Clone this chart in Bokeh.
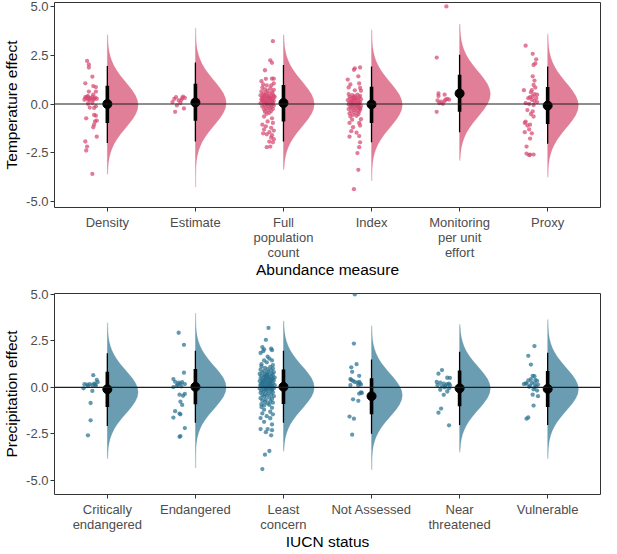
import numpy as np
from bokeh.plotting import figure
from bokeh.models import Range1d, FixedTicker, Span, NumeralTickFormatter
from bokeh.layouts import column
from bokeh.embed import file_html
from bokeh.resources import INLINE

# ---------------- data: top panel (Abundance measure) ----------------
abund_labels = ["Density", "Estimate", "Full\npopulation\ncount", "Index",
                "Monitoring\nper unit\neffort", "Proxy"]
temp_median = [0.00, 0.08, 0.05, -0.02, 0.54, -0.08]
temp_lo66 = [-0.97, -0.86, -0.89, -0.97, -0.40, -1.02]
temp_hi66 = [0.93, 1.04, 0.98, 0.89, 1.50, 0.87]
temp_lo95 = [-2.00, -1.92, -1.92, -1.96, -1.44, -2.04]
temp_hi95 = [1.95, 2.13, 2.00, 1.92, 2.52, 1.92]
temp_slab_mode = [-0.05, 0.05, 0.00, -0.04, 0.51, -0.07]
temp_slab_lo = [-3.60, -4.26, -3.37, -3.94, -2.90, -3.76]
temp_slab_hi = [3.56, 3.90, 3.56, 3.81, 4.10, 3.60]

# (jitter offset in category units, effect)
density_pts = [(-0.23, 2.21), (-0.21, 2.03), (-0.21, 1.87), (-0.17, 1.40), (-0.25, 1.06),
               (-0.16, 0.92), (-0.13, 0.87), (-0.21, 0.64), (-0.13, 0.64), (-0.16, 0.48),
               (-0.25, 0.35), (-0.23, 0.38), (-0.22, 0.40), (-0.20, 0.30), (-0.19, 0.28),
               (-0.14, 0.33), (-0.26, 0.22), (-0.22, 0.22), (-0.20, 0.18), (-0.16, 0.20),
               (-0.12, 0.27), (-0.24, 0.30), (-0.17, 0.36), (-0.15, 0.26), (-0.22, 0.01),
               (-0.17, 0.05), (-0.13, -0.11), (-0.20, -0.18), (-0.15, -0.20), (-0.15, -0.56),
               (-0.13, -0.60), (-0.24, -0.73), (-0.14, -0.89), (-0.12, -0.85), (-0.15, -1.06),
               (-0.16, -1.19), (-0.12, -1.67), (-0.25, -1.92), (-0.23, -2.18), (-0.24, -2.38),
               (-0.17, -3.58)]
estimate_pts = [(-0.24, 0.26), (-0.22, 0.35), (-0.19, 0.18), (-0.21, -0.07), (-0.23, -0.40),
                (-0.14, 0.38), (-0.12, 0.31), (-0.17, 0.05), (-0.13, -0.23), (-0.16, 0.20),
                (-0.26, 0.10), (-0.15, 0.30)]
full_pts = [(-0.12, 3.22), (-0.15, 2.24), (-0.13, 2.11), (-0.21, 1.73), (-0.13, 1.30),
            (-0.11, 1.30), (-0.20, 1.29), (-0.25, 1.17), (-0.23, 1.00), (-0.19, 0.95),
            (-0.14, 0.95), (-0.11, 1.05),
            (-0.24, 0.84), (-0.15, 0.80), (-0.21, 0.75), (-0.11, 0.72), (-0.18, 0.68),
            (-0.25, 0.65), (-0.13, 0.62), (-0.20, 0.58), (-0.16, 0.55), (-0.23, 0.52),
            (-0.12, 0.50), (-0.19, 0.47), (-0.26, 0.45), (-0.14, 0.42), (-0.21, 0.40),
            (-0.17, 0.38), (-0.10, 0.36), (-0.24, 0.34), (-0.15, 0.32), (-0.20, 0.30),
            (-0.12, 0.28), (-0.18, 0.26), (-0.25, 0.24), (-0.14, 0.22), (-0.22, 0.20),
            (-0.16, 0.18), (-0.11, 0.16), (-0.19, 0.14), (-0.23, 0.12), (-0.13, 0.10),
            (-0.21, 0.08), (-0.17, 0.06), (-0.26, 0.04), (-0.12, 0.02), (-0.19, 0.00),
            (-0.15, -0.02), (-0.22, -0.05), (-0.11, -0.08), (-0.18, -0.10), (-0.24, -0.13),
            (-0.14, -0.16), (-0.20, -0.19), (-0.16, -0.22), (-0.12, -0.25), (-0.22, -0.28),
            (-0.18, -0.32), (-0.14, -0.36), (-0.21, -0.40), (-0.16, -0.45), (-0.19, -0.50),
            (-0.17, 0.35), (-0.22, 0.44), (-0.13, 0.15), (-0.20, 0.10), (-0.15, 0.27),
            (-0.24, 0.18), (-0.11, 0.40), (-0.18, 0.02), (-0.23, 0.30), (-0.14, -0.05),
            (-0.22, -0.64), (-0.13, -0.73), (-0.18, -0.89), (-0.24, -1.06), (-0.12, -0.97),
            (-0.20, -1.14), (-0.14, -1.22), (-0.22, -1.30), (-0.16, -1.44), (-0.11, -1.36),
            (-0.19, -1.55), (-0.13, -1.60), (-0.23, -1.50), (-0.14, -1.72), (-0.16, -1.93),
            (-0.12, -1.96), (-0.15, -2.18), (-0.19, -2.21), (-0.11, -1.80)]
index_pts = [(-0.20, 1.75), (-0.19, 1.83), (-0.13, 1.87), (-0.27, 1.25), (-0.15, 1.42),
             (-0.24, 1.00), (-0.14, 1.05), (-0.26, 0.85), (-0.13, 0.82), (-0.19, 0.70),
             (-0.12, 0.68),
             (-0.26, 0.51), (-0.16, 0.48), (-0.22, 0.45), (-0.13, 0.42), (-0.19, 0.40),
             (-0.25, 0.37), (-0.14, 0.34), (-0.21, 0.32), (-0.17, 0.30), (-0.24, 0.27),
             (-0.12, 0.25), (-0.20, 0.22), (-0.27, 0.20), (-0.15, 0.18), (-0.22, 0.15),
             (-0.18, 0.13), (-0.13, 0.10), (-0.25, 0.08), (-0.16, 0.06), (-0.21, 0.04),
             (-0.14, 0.02), (-0.19, 0.00), (-0.26, -0.02), (-0.15, -0.04), (-0.23, -0.06),
             (-0.17, -0.08), (-0.12, -0.10), (-0.20, -0.12), (-0.24, -0.15), (-0.14, -0.18),
             (-0.22, -0.20), (-0.18, -0.23), (-0.26, -0.26), (-0.13, -0.28), (-0.20, -0.31),
             (-0.16, -0.34), (-0.23, -0.37), (-0.14, -0.40), (-0.19, -0.44), (-0.25, -0.48),
             (-0.15, -0.52), (-0.21, -0.56), (-0.17, -0.60), (-0.24, -0.64), (-0.18, 0.24),
             (-0.23, 0.12), (-0.16, -0.14), (-0.20, 0.35), (-0.13, -0.22), (-0.22, -0.02),
             (-0.25, -0.97), (-0.14, -0.97), (-0.21, -1.19), (-0.13, -1.10), (-0.23, -1.39),
             (-0.17, -1.47), (-0.25, -1.67), (-0.14, -1.64), (-0.13, -1.96), (-0.14, -2.21),
             (-0.16, -2.51), (-0.15, -3.37), (-0.20, -4.36), (-0.22, -0.80), (-0.12, -0.78)]
monitoring_pts = [(-0.15, 5.00), (-0.26, 2.38), (-0.24, 0.54), (-0.24, 0.41), (-0.17, 0.48),
                  (-0.25, 0.18), (-0.21, 0.12), (-0.19, 0.01), (-0.16, 0.22), (-0.14, 0.26),
                  (-0.12, 0.22), (-0.23, 0.05), (-0.26, -0.40), (-0.17, 0.15)]
proxy_pts = [(-0.25, 2.99), (-0.17, 2.57), (-0.13, 2.29), (-0.14, 2.08), (-0.16, 2.00),
             (-0.17, 1.42), (-0.15, 1.20), (-0.16, 0.98), (-0.14, 0.84), (-0.27, 0.71),
             (-0.18, 0.71), (-0.15, 0.51), (-0.12, 0.48), (-0.17, 0.40), (-0.20, 0.35),
             (-0.22, 0.30), (-0.13, 0.30), (-0.18, 0.22), (-0.15, 0.15), (-0.25, 0.05),
             (-0.21, 0.00), (-0.16, -0.05), (-0.23, -0.31), (-0.17, -0.38), (-0.19, -0.51),
             (-0.16, -0.64), (-0.25, -0.90), (-0.26, -0.97), (-0.20, -1.06), (-0.23, -1.10),
             (-0.21, -1.30), (-0.26, -1.44), (-0.18, -1.50), (-0.20, -1.77), (-0.24, -2.18),
             (-0.24, -2.54), (-0.20, -2.59), (-0.16, -2.59), (-0.21, -2.62), (-0.12, 0.10),
             (-0.19, 0.60)]

# ---------------- data: bottom panel (IUCN status) ----------------
iucn_labels = ["Critically\nendangered", "Endangered", "Least\nconcern", "Not Assessed",
               "Near\nthreatened", "Vulnerable"]
prec_median = [-0.10, 0.03, 0.03, -0.47, -0.05, -0.08]
prec_lo66 = [-1.06, -0.91, -0.89, -1.45, -1.01, -1.06]
prec_hi66 = [0.84, 0.99, 0.96, 0.49, 0.91, 0.88]
prec_lo95 = [-2.07, -1.90, -1.90, -2.49, -2.02, -2.02]
prec_hi95 = [1.83, 1.97, 1.97, 1.50, 1.92, 1.87]
prec_slab_mode = [-0.25, 0.00, 0.00, -0.42, -0.05, -0.10]
prec_slab_lo = [-3.84, -4.34, -3.45, -4.43, -3.49, -3.84]
prec_slab_hi = [3.48, 3.99, 3.58, 3.32, 3.40, 3.65]

critical_pts = [(-0.16, 0.66), (-0.12, 0.40), (-0.26, 0.17), (-0.23, 0.15), (-0.20, 0.18),
                (-0.17, 0.12), (-0.14, 0.16), (-0.13, 0.10), (-0.22, 0.08), (-0.27, -0.05),
                (-0.17, -0.19), (-0.19, -0.84), (-0.19, -1.77), (-0.22, -2.58), (-0.15, 0.20),
                (-0.11, 0.28)]
endangered_pts = [(-0.19, 2.94), (-0.13, 2.29), (-0.13, 0.79), (-0.25, 0.45), (-0.23, 0.30),
                  (-0.19, 0.25), (-0.17, 0.20), (-0.15, 0.28), (-0.21, 0.10), (-0.25, 0.02),
                  (-0.16, 0.05), (-0.12, 0.18), (-0.18, -0.39), (-0.12, -0.35), (-0.14, -0.45),
                  (-0.17, -0.77), (-0.15, -0.94), (-0.23, -1.28), (-0.18, -1.41), (-0.17, -1.45),
                  (-0.25, -1.62), (-0.12, -2.19), (-0.18, -2.66), (-0.17, -2.62), (-0.20, 0.15)]
least_pts = [(-0.17, 3.20), (-0.20, 2.56), (-0.24, 2.17), (-0.22, 2.05), (-0.14, 2.08),
             (-0.13, 2.00), (-0.23, 1.95), (-0.26, 1.85), (-0.18, 1.65), (-0.16, 1.55),
             (-0.13, 1.45), (-0.22, 1.45), (-0.19, 1.35), (-0.25, 1.25), (-0.12, 1.20),
             (-0.25, 1.13), (-0.15, 1.10), (-0.21, 1.05), (-0.12, 1.02), (-0.18, 0.98),
             (-0.26, 0.95), (-0.14, 0.92), (-0.22, 0.88), (-0.17, 0.85), (-0.11, 0.82),
             (-0.24, 0.80), (-0.19, 0.77), (-0.13, 0.74), (-0.27, 0.72), (-0.16, 0.70),
             (-0.21, 0.67), (-0.12, 0.65), (-0.25, 0.62), (-0.18, 0.60), (-0.14, 0.58),
             (-0.22, 0.55), (-0.10, 0.53), (-0.26, 0.50), (-0.17, 0.48), (-0.20, 0.46),
             (-0.13, 0.44), (-0.24, 0.42), (-0.15, 0.40), (-0.21, 0.38), (-0.11, 0.36),
             (-0.27, 0.34), (-0.18, 0.32), (-0.14, 0.30), (-0.23, 0.28), (-0.16, 0.26),
             (-0.20, 0.24), (-0.12, 0.22), (-0.25, 0.20), (-0.19, 0.18), (-0.15, 0.16),
             (-0.22, 0.14), (-0.10, 0.12), (-0.26, 0.10), (-0.17, 0.08), (-0.13, 0.06),
             (-0.21, 0.04), (-0.24, 0.02), (-0.15, 0.00), (-0.19, -0.02), (-0.11, -0.04),
             (-0.27, -0.06), (-0.16, -0.08), (-0.22, -0.10), (-0.13, -0.12), (-0.20, -0.14),
             (-0.25, -0.16), (-0.14, -0.18), (-0.18, -0.20), (-0.23, -0.23), (-0.12, -0.26),
             (-0.26, -0.29), (-0.17, -0.32), (-0.21, -0.35), (-0.14, -0.38), (-0.24, -0.41),
             (-0.19, -0.44), (-0.11, -0.47), (-0.22, -0.50), (-0.16, -0.54), (-0.26, -0.58),
             (-0.13, -0.62), (-0.20, -0.66), (-0.24, -0.70), (-0.15, -0.74), (-0.21, -0.78),
             (-0.12, -0.82), (-0.18, -0.86), (-0.25, -0.90), (-0.16, -0.94), (-0.22, -0.97),
             (-0.19, 0.55), (-0.23, 0.35), (-0.14, 0.12), (-0.20, 0.40), (-0.17, 0.20),
             (-0.24, 0.27), (-0.12, 0.46), (-0.18, 0.05), (-0.21, 0.60), (-0.15, 0.30),
             (-0.26, 0.15), (-0.13, -0.02), (-0.19, 0.70), (-0.16, 0.50), (-0.23, 0.08),
             (-0.20, -0.05),
             (-0.25, -1.06), (-0.13, -1.10), (-0.22, -1.20), (-0.15, -1.31), (-0.24, -1.40),
             (-0.12, -1.45), (-0.19, -1.55), (-0.26, -1.65), (-0.15, -1.66), (-0.22, -1.85),
             (-0.13, -1.99), (-0.26, -2.24), (-0.18, -2.24), (-0.13, -2.30), (-0.20, -2.41),
             (-0.14, -2.58), (-0.16, -3.42), (-0.21, -3.62), (-0.24, -4.39)]
notassessed_pts = [(-0.19, 5.00), (-0.20, 2.36), (-0.23, 1.08), (-0.17, 1.25), (-0.22, 0.84),
                   (-0.14, 0.62), (-0.24, 0.45), (-0.23, 0.40), (-0.21, 0.35), (-0.19, 0.29),
                   (-0.16, 0.25), (-0.14, 0.30), (-0.13, 0.22), (-0.12, 0.15), (-0.15, 0.12),
                   (-0.24, 0.12), (-0.12, -0.27), (-0.14, -0.34), (-0.21, -0.64), (-0.15, -0.72),
                   (-0.25, -1.57), (-0.20, -1.68), (-0.22, -2.54), (-0.11, -0.30)]
near_pts = [(-0.20, 0.93), (-0.24, 0.74), (-0.11, 0.51), (-0.14, 0.52), (-0.26, 0.29),
            (-0.22, 0.25), (-0.18, 0.20), (-0.14, 0.18), (-0.12, 0.20), (-0.25, 0.12),
            (-0.20, 0.05), (-0.16, 0.10), (-0.11, 0.12), (-0.22, -0.13), (-0.14, -0.22),
            (-0.12, -0.05), (-0.18, -0.40), (-0.21, -1.14), (-0.24, -1.36), (-0.12, -2.04),
            (-0.17, 0.00)]
vulnerable_pts = [(-0.15, 2.22), (-0.22, 1.70), (-0.19, 1.23), (-0.17, 0.62), (-0.15, 0.60),
                  (-0.19, 0.45), (-0.22, 0.37), (-0.12, 0.35), (-0.24, 0.20), (-0.27, 0.18),
                  (-0.15, 0.20), (-0.11, 0.15), (-0.21, 0.03), (-0.15, 0.00), (-0.12, -0.17),
                  (-0.17, -0.39), (-0.11, -0.47), (-0.16, -0.98), (-0.22, -1.62), (-0.24, -1.68),
                  (-0.18, 0.25), (-0.20, 0.10), (-0.13, 0.05), (-0.25, 0.22), (-0.16, -0.10),
                  (-0.14, 0.40)]

# shared slab profile: offset from mode -> relative half-width
slab_offsets = [-4.5, -4.25, -4.0, -3.75, -3.5, -3.25, -3.0, -2.75, -2.5, -2.25, -2.0, -1.75,
                -1.5, -1.25, -1.0, -0.75, -0.5, -0.25, 0.0, 0.25, 0.5, 0.75, 1.0, 1.25, 1.5,
                1.75, 2.0, 2.25, 2.5, 2.75, 3.0, 3.25, 3.5, 3.75, 4.0, 4.25, 4.5]
slab_rel = [0.0005, 0.0011, 0.0024, 0.0049, 0.0097, 0.018, 0.033, 0.057, 0.094, 0.147, 0.220,
            0.314, 0.427, 0.554, 0.685, 0.808, 0.910, 0.977, 1.0, 0.977, 0.910, 0.808, 0.685,
            0.554, 0.427, 0.314, 0.220, 0.147, 0.094, 0.057, 0.033, 0.018, 0.0097, 0.0049,
            0.0024, 0.0011, 0.0005]
SLAB_PEAK = 0.35

FONT = "Liberation Sans"


def make_panel(labels, pts_lists, med, lo66, hi66, lo95, hi95, mode, slo, shi,
               slab_col, pt_col, ylab, xlab, yr, height, btop, bbot, title_standoff):
    p = figure(width=601, height=height, x_range=Range1d(0.4, 6.6), y_range=Range1d(*yr),
               output_backend="svg", toolbar_location=None,
               min_border_left=0, min_border_right=1, min_border_top=btop,
               min_border_bottom=bbot)
    p.grid.visible = False
    p.outline_line_color = "#333333"
    p.outline_line_width = 1
    p.background_fill_color = "white"
    p.border_fill_color = "white"

    # slabs
    for i in range(6):
        cx = i + 1
        ys = [slo[i]]
        ws = [0.0]
        for o, r in zip(slab_offsets, slab_rel):
            y = mode[i] + o
            if slo[i] < y < shi[i]:
                ys.append(y)
                ws.append(r)
        ys.append(shi[i])
        ws.append(0.0)
        xs = [cx + w * SLAB_PEAK for w in ws]
        p.patch(xs, ys, fill_color=slab_col, line_color=slab_col, line_width=0.3, line_alpha=0.6)
        p.segment(x0=[cx + 0.004], y0=[slo[i]], x1=[cx + 0.004], y1=[shi[i]],
                  line_color=slab_col, line_width=1, line_alpha=0.35)

    # jittered points
    xs_all, ys_all = [], []
    for i, pts in enumerate(pts_lists):
        for dx, y in pts:
            xs_all.append(i + 1 + dx)
            ys_all.append(y)
    p.scatter(xs_all, ys_all, size=4.3, fill_color=pt_col, fill_alpha=0.72,
              line_color=None)

    # zero line
    p.add_layout(Span(location=0, dimension="width", line_color="#1f1f1f", line_width=1.1,
                      level="glyph"))

    # intervals
    cxs = list(range(1, 7))
    p.segment(x0=cxs, y0=lo95, x1=cxs, y1=hi95, line_color="black", line_width=1.3)
    p.segment(x0=cxs, y0=lo66, x1=cxs, y1=hi66, line_color="black", line_width=3.6)
    p.scatter(cxs, med, size=9, fill_color="black", line_color="black")

    # axes
    p.xaxis.ticker = FixedTicker(ticks=cxs)
    p.xaxis.major_label_overrides = {i + 1: lab for i, lab in enumerate(labels)}
    p.yaxis.ticker = FixedTicker(ticks=[-5, -2.5, 0, 2.5, 5])
    p.yaxis.formatter = NumeralTickFormatter(format="0.0")
    for ax in (p.xaxis, p.yaxis):
        ax.axis_line_color = None
        ax.major_tick_line_color = "#333333"
        ax.major_tick_out = 4
        ax.major_tick_in = 0
        ax.minor_tick_line_color = None
        ax.major_label_text_font = FONT
        ax.major_label_text_font_size = "13px"
        ax.major_label_text_color = "#4d4d4d"
        ax.major_label_text_line_height = 1.0
        ax.axis_label_text_font = FONT
        ax.axis_label_text_font_size = "15.5px"
        ax.axis_label_text_font_style = "normal"
        ax.axis_label_text_color = "black"
    p.xaxis.major_label_standoff = 3
    p.xaxis.axis_label_standoff = title_standoff
    p.yaxis.major_label_standoff = 2
    p.yaxis.axis_label_standoff = 3
    p.yaxis.axis_label = ylab
    p.xaxis.axis_label = xlab
    return p


p1 = make_panel(abund_labels,
                [density_pts, estimate_pts, full_pts, index_pts, monitoring_pts, proxy_pts],
                temp_median, temp_lo66, temp_hi66, temp_lo95, temp_hi95,
                temp_slab_mode, temp_slab_lo, temp_slab_hi,
                "#E07F97", "#D64A72", "Temperature effect", "Abundance measure",
                (-5.3, 5.2), 280, 2, 50, -2)
p2 = make_panel(iucn_labels,
                [critical_pts, endangered_pts, least_pts, notassessed_pts, near_pts, vulnerable_pts],
                prec_median, prec_lo66, prec_hi66, prec_lo95, prec_hi95,
                prec_slab_mode, prec_slab_lo, prec_slab_hi,
                "#6A9DB1", "#2A7190", "Precipitation effect", "IUCN status",
                (-5.76, 5.05), 272, 13, 40, -2)

layout = column(p1, p2, spacing=0)
open("out.html", "w").write(file_html(layout, INLINE))
